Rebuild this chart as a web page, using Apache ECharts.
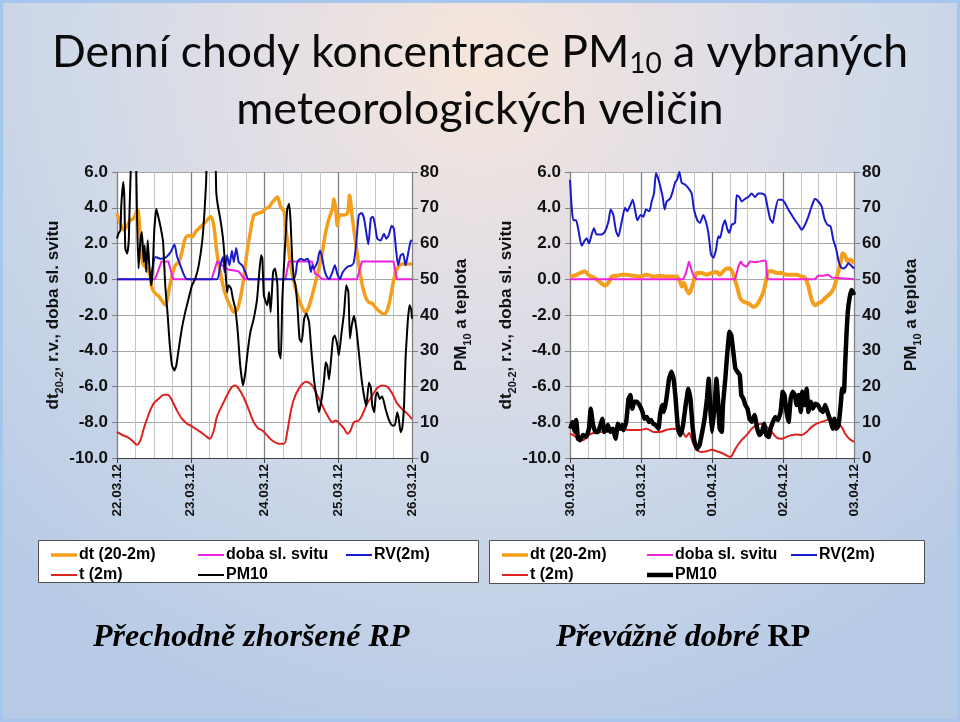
<!DOCTYPE html>
<html><head><meta charset="utf-8">
<script src="https://cdn.jsdelivr.net/npm/echarts@6/dist/echarts.min.js"></script>
<style>html,body{margin:0;padding:0;}#c{width:960px;height:722px;}</style>
</head><body><div id="c"></div>
<script>
// ---------- DATA ----------
const datesLeft = ['22.03.12','23.03.12','24.03.12','25.03.12','26.03.12'];
const datesRight = ['30.03.12','31.03.12','01.04.12','02.04.12','03.04.12'];
const leftTicks = [-10,-8,-6,-4,-2,0,2,4,6];
const rightTicks = [0,10,20,30,40,50,60,70,80];

// left chart (22.03.–26.03.), x = hours from start
const L_dt = [[0,3.7],[1.1,3.1],[2.2,2.75],[3.3,3.0],[4.3,3.3],[5.4,3.4],[6.7,3.9],[7.4,2.8],[8.1,1.15],[8.7,0.78],[9.8,0.6],[10.8,0.2],[11.4,-0.5],[12.5,-0.8],[13.6,-0.95],[14.6,-1.2],[15.7,-1.45],[16.8,-0.7],[17.9,0.2],[19,0.78],[20.1,0.96],[21.1,1.5],[22.2,2.27],[23.3,2.45],[24.4,2.36],[25.5,2.64],[26.6,2.83],[28.2,3.1],[29.8,3.4],[30.6,3.5],[31.5,3.0],[32.5,1.5],[33.6,0.4],[34.7,-0.5],[35.8,-1.1],[36.9,-1.5],[38,-1.85],[39,-1.75],[40.1,-1.1],[41.2,0.03],[42.3,1.5],[43.4,2.64],[44.5,3.57],[45.6,3.67],[47.2,3.76],[48.4,3.95],[49.5,4.04],[50.5,4.3],[51.6,4.5],[52.2,4.6],[52.7,4.4],[53.3,4.04],[54.4,3.76],[55.1,2.64],[55.8,1.7],[56.5,0.78],[57.3,0.03],[58.1,-0.5],[59.1,-1.1],[60.3,-1.6],[61.4,-1.85],[62.5,-1.5],[63.5,-0.9],[64.6,-0.16],[65.7,0.6],[66.8,1.5],[67.9,2.64],[69,3.4],[70.1,3.95],[70.6,4.5],[71.2,3.9],[71.7,3.0],[72.5,3.6],[73.9,3.6],[75,3.7],[75.7,4.7],[76.6,3.4],[77.7,2.0],[78.7,0.8],[79.8,-0.3],[80.9,-1.0],[82,-1.3],[83.1,-1.35],[84.2,-1.6],[85.8,-1.85],[86.9,-1.95],[88,-1.7],[89,-1.0],[90.1,0.0],[91.2,0.6],[92.8,0.85],[96,0.85]];
const L_sun = [[0,0],[12.4,0],[14.5,1.0],[16.7,1.0],[18.3,0],[30.8,0],[32.6,1.0],[34,0.8],[36,0.55],[39.5,0.45],[41.6,0],[54.8,0],[55.9,1.0],[63.4,1.0],[64.5,0.3],[65.6,0.2],[66.7,0],[78.1,0],[79.7,1.0],[90,1.0],[91.1,0],[96,0]];
const L_rv = [[0,0],[10.8,0],[11.4,0.5],[12.5,1.25],[14.1,1.15],[15.7,1.2],[17.4,1.5],[18.7,1.95],[19.5,1.3],[20.6,0.78],[21.9,0.2],[22.8,0],[32.5,0],[33.6,0.78],[34.5,1.24],[35,0.4],[35.8,1.34],[36.6,0.78],[37.4,1.6],[38,0.96],[38.8,1.75],[39.6,0.96],[40.7,0.78],[41.8,0.4],[42.8,0],[57.4,0],[58.7,0.96],[59.8,1.15],[60.9,1.06],[62,1.15],[62.5,0.96],[63.1,0.4],[63.6,0.78],[64.1,0.6],[65.2,0.96],[66,1.6],[66.6,1.34],[67.4,0.6],[68.1,0.2],[69,0],[70.1,0.4],[70.9,0.78],[71.7,0.3],[72.5,0],[73.5,0.4],[75,0.7],[76.4,0.78],[77.1,0.96],[77.9,2.1],[78.7,3.6],[79.6,3.7],[80.4,3.4],[81.1,2.64],[81.8,1.95],[82.6,3.4],[83.3,3.5],[83.9,3.1],[84.7,2.27],[85.8,2.17],[86.9,2.55],[87.6,2.27],[88.4,2.45],[89.4,3.0],[90.1,2.83],[90.9,1.5],[91.5,0.78],[92.3,1.34],[93.1,1.43],[93.9,0.78],[94.8,1.5],[95.5,2.1],[96,2.2]];
const L_t = [[0,7.3],[1.6,6.5],[3.3,5.9],[4.9,4.9],[6.5,3.7],[7.6,4.9],[8.7,8.2],[9.8,11.0],[10.8,13.3],[11.9,15.2],[13.6,16.6],[15.2,17.7],[16.5,17.7],[17.9,16.1],[19.5,13.3],[21.1,11.0],[22.8,9.6],[23.9,9.1],[25.5,8.2],[27.1,7.3],[28.7,6.3],[30.2,5.4],[31.5,7.7],[32.5,11.5],[34.2,14.7],[35.8,17.5],[37.4,19.9],[38.5,20.3],[39.6,19.4],[41.2,17.0],[42.8,13.7],[44.5,10.0],[46.1,8.2],[47.3,7.7],[48.9,6.3],[50.5,4.9],[52.7,4.0],[54.4,4.0],[55.4,7.3],[56.5,12.8],[57.6,16.5],[59.2,19.4],[61.4,21.3],[63.5,20.3],[65.2,17.5],[66.8,14.7],[68.4,12.0],[70.1,10.0],[71.2,10.5],[72.5,9.6],[73.9,8.2],[75,6.8],[76,7.7],[77.1,10.0],[78.7,10.5],[79.8,12.0],[81.4,15.2],[83.1,17.5],[84.7,19.6],[86.3,20.3],[88,19.9],[89.6,18.0],[91.2,15.2],[92.8,13.7],[94.5,12.4],[96,10.9]];
const L_pm = [[0,61.4],[0.5,62.8],[1.1,63.7],[1.4,70.7],[2,77.2],[2.4,72.5],[2.7,58.6],[3.3,57.2],[3.8,60.4],[4.1,69.7],[4.6,84],[5.4,100],[6.2,84],[6.5,67.9],[7,53],[7.6,60.4],[8.1,63.2],[8.7,54.8],[9,59.5],[9.5,52],[10,60.9],[10.5,53.9],[11.1,48.3],[11.6,52],[12.1,63.2],[12.8,69.7],[13.6,66.9],[14.3,64.1],[15,60.4],[15.7,48.3],[16.5,39.9],[17.1,32.4],[17.9,25.9],[18.7,24.5],[19.3,25.9],[20.1,30.6],[21.1,36.2],[22.2,40.8],[23.3,44.6],[24.4,48.3],[25.5,50.2],[26.6,53.9],[27.7,60.4],[28.4,67.9],[29,77.2],[29.3,86],[30.6,105],[32,86],[32.3,74.4],[32.8,70.7],[33.6,66.9],[34.5,61.4],[35.2,53.9],[35.8,46.4],[36.3,48.3],[37.1,47.4],[37.7,44.6],[38.5,41.7],[39.3,35.2],[40.1,25.9],[41,20.3],[41.8,24.1],[42.5,29.6],[43.4,35.2],[44.5,39],[45.6,44.6],[46.3,52],[46.9,56.7],[47.3,55.8],[47.8,45.5],[48.9,42.7],[49.5,46.4],[50,40.8],[50.8,52],[51.4,53],[52.2,48.3],[52.7,29.6],[53.3,27.8],[53.8,44.6],[54.7,59.5],[55.4,69.7],[56,71.1],[56.5,66],[57,55.8],[57.6,50],[58.1,48.3],[58.7,42.7],[59.4,33.4],[60.1,32.4],[60.9,39],[61.6,40.4],[62.5,38],[63.3,29.6],[64.1,22],[65,16.5],[65.7,12.8],[66.6,16.5],[67.4,22],[67.9,26.8],[68.4,25.9],[69,22],[69.5,25.9],[70.3,33.4],[70.9,34.3],[71.7,31.5],[72.2,28.7],[73.1,35.2],[73.9,40.8],[74.6,48.3],[75.3,46.4],[75.8,33.4],[76.4,37.1],[77.1,39.8],[77.9,36.2],[78.7,29.6],[79.6,22],[80.4,17.3],[81.1,14.5],[82,21.1],[82.6,19.7],[83.1,14.5],[83.7,12.8],[84.2,17.3],[84.7,18.4],[85.5,16.5],[86.3,17.3],[87.4,13.7],[88.4,10.9],[89.6,9.1],[90.4,9.1],[91.2,12.8],[91.7,10.9],[92.3,7.2],[92.8,8.2],[93.4,14.5],[93.9,27.8],[94.6,38],[95.2,42.7],[95.7,41.7],[96,39]];

// right chart (30.03.–03.04.)
const R_dt = [[0,0.15],[2.25,0.25],[3.4,0.35],[5.1,0.45],[6.2,0.25],[7.3,0.15],[8.5,0.05],[10.1,-0.15],[11.8,-0.35],[13,-0.2],[14.1,0.15],[15.8,0.2],[17.5,0.25],[19.2,0.25],[21.4,0.2],[23.7,0.15],[25.9,0.25],[28.2,0.15],[30.4,0.2],[32.7,0.15],[36.1,0.15],[37.2,-0.15],[37.8,-0.4],[38.5,-0.2],[39.4,-0.6],[40.3,-0.8],[41.1,-0.5],[41.9,-0.05],[42.8,0.35],[44.5,0.35],[46.2,0.25],[47.9,0.35],[49.6,0.4],[50.7,0.25],[51.8,0.45],[53,0.6],[54.1,0.6],[55,0.35],[55.8,-0.05],[56.6,-0.5],[57.5,-1.05],[58.6,-1.25],[60.3,-1.35],[62,-1.55],[63.1,-1.45],[64.2,-1.15],[65.4,-0.7],[66.3,-0.05],[67,0.45],[68.2,0.45],[69.9,0.35],[71.6,0.35],[73.2,0.25],[74.9,0.25],[76.6,0.25],[78.3,0.15],[79.4,0.1],[80.6,-0.4],[81.7,-1.15],[82.8,-1.45],[83.9,-1.35],[85.1,-1.25],[86.2,-1.05],[87.3,-0.9],[88.5,-0.7],[89.6,-0.3],[90.4,0.25],[91.3,0.8],[92.2,1.45],[93,1.3],[93.8,1.0],[94.7,1.1],[96,0.9]];
const R_sun = [[0,0],[38.3,0],[39.2,0.35],[40.2,1.0],[41.1,0.5],[41.9,0.15],[42.8,0],[55.8,0],[56.9,0.7],[57.7,1.0],[58.4,0.8],[59.7,0.7],[60.8,1.0],[62.5,0.95],[64.2,1.0],[65.6,1.05],[66.3,1.0],[66.7,0],[82.8,0],[83.9,0.2],[85.6,0.2],[87.3,0.25],[88.5,0.1],[89,0],[96,0]];
const R_rv = [[0,5.57],[0.56,4.07],[1.13,3.3],[2.03,3.3],[2.82,2.77],[3.94,1.87],[4.73,2.1],[5.63,2.3],[6.42,2.0],[7.32,2.5],[8.11,2.86],[9.01,2.5],[10.7,2.5],[11.83,2.67],[12.96,3.2],[13.75,3.9],[14.65,3.6],[15.55,2.7],[16.34,2.4],[17.46,3.2],[18.59,4.0],[19.38,3.8],[20.28,4.1],[21.18,4.45],[21.97,3.9],[22.76,3.3],[23.89,3.6],[24.79,3.5],[25.69,3.9],[26.82,3.8],[27.61,4.35],[28.39,4.8],[29.07,5.95],[29.86,5.6],[30.65,5.1],[31.32,4.6],[32,3.9],[32.68,4.35],[33.8,4.5],[34.7,4.9],[35.49,5.4],[36.28,5.6],[36.96,6.0],[37.75,5.4],[38.87,5.3],[40,5.1],[41.13,4.8],[41.92,3.9],[43.04,3.3],[43.94,3.15],[45.07,3.6],[45.97,3.2],[46.76,2.6],[47.66,1.4],[48.45,1.2],[49.35,1.65],[50.14,2.4],[50.7,2.3],[51.61,2.95],[52.39,3.3],[53.18,2.8],[53.86,2.6],[54.65,3.05],[55.77,3.15],[56.34,4.7],[57.24,4.6],[58.03,4.35],[59.15,4.5],[60.28,4.6],[61.41,4.8],[62.54,4.6],[63.66,4.8],[64.79,4.8],[65.92,4.7],[66.7,4.1],[67.61,3.4],[68.51,3.15],[69.3,3.8],[70.42,4.45],[71.55,4.45],[72.68,4.26],[73.8,3.9],[74.93,3.6],[76.06,3.3],[77.18,3.05],[78.31,2.77],[79.44,3.05],[80.56,3.5],[81.69,4.07],[82.82,4.5],[83.94,4.35],[85.07,4.07],[85.97,3.4],[86.99,3.05],[88.11,2.95],[89.01,2.2],[89.92,1.74],[90.7,1.08],[91.49,0.7],[92.39,0.6],[93.3,0.7],[94.08,0.9],[94.87,0.8],[96,0.6]];
const R_t = [[0,6.8],[1.1,6.4],[2.8,5.4],[4.5,5.0],[6.2,6.4],[7.9,7.0],[10.1,7.3],[12.4,7.3],[14.7,7.6],[16.9,7.8],[19.2,7.9],[21.4,7.8],[23.7,7.8],[25.9,8.2],[28.2,7.3],[30.4,7.3],[32.7,7.9],[34.9,8.2],[36.6,7.9],[38.1,7.3],[39.2,5.9],[40.3,7.0],[41.1,5.4],[41.9,3.6],[43,2.2],[44.5,1.7],[46.2,1.9],[47.9,2.3],[49.6,1.9],[51.3,1.4],[53,0.7],[54.3,0.3],[55.2,1.4],[56.3,3.1],[58,5.0],[59.7,6.4],[61.4,8.2],[63.1,9.2],[64.8,9.6],[66.5,8.7],[68.2,7.3],[69.9,5.7],[71.6,5.4],[73.2,5.9],[74.9,6.4],[76.6,6.6],[78.3,6.4],[80,7.3],[81.7,8.7],[83.4,9.6],[85.1,10.1],[86.8,10.6],[88.5,11.0],[90.1,10.1],[91.8,8.7],[93,6.8],[94.4,5.4],[96,4.5]];
const R_pm = [[0.1,8.2],[0.8,10.1],[1.6,7.3],[2.1,10.6],[2.7,5.4],[3.5,5.0],[4.4,6.4],[5.5,5.9],[6.4,8.2],[7,13.8],[7.8,9.2],[8.6,7.3],[9.5,7.3],[10.3,9.2],[10.9,11.0],[11.6,7.3],[12.3,7.8],[12.8,9.2],[13.6,7.3],[14.5,8.2],[15.4,5.4],[16.2,9.6],[16.8,8.2],[17.6,9.2],[18.1,7.8],[19,10.1],[19.8,16.6],[20.4,17.6],[21.1,13.8],[21.7,15.7],[22.6,15.7],[23.5,14.8],[24.5,12.9],[25.1,11.0],[26,11.5],[26.7,10.1],[27.4,10.6],[28.1,9.6],[29,9.2],[29.9,8.2],[30.5,12.4],[31.2,14.8],[31.8,12.9],[32.6,16.6],[33.5,22.2],[34.3,24.1],[35,22.2],[35.7,16.6],[36.5,8.2],[37.3,6.4],[38.2,9.2],[39.1,14.8],[40,19.4],[40.7,16.6],[41.4,9.2],[42.1,4.5],[42.9,2.6],[43.8,3.6],[44.7,7.3],[45.5,11.0],[46.3,16.6],[46.9,22.2],[47.4,14.0],[48,7.3],[48.9,14.8],[49.5,22.2],[50,16.6],[50.6,8.2],[51.3,7.3],[51.7,14.8],[52.5,22.2],[53.2,29.7],[53.9,35.3],[54.5,34.4],[55.2,29.7],[55.9,25.0],[56.6,24.1],[57.4,23.2],[57.9,17.6],[58.6,16.6],[59.3,14.8],[60,13.8],[60.7,11.0],[61.5,10.1],[62.4,12.0],[63.3,8.2],[64.1,6.4],[64.9,7.3],[65.6,9.6],[66.4,6.4],[67.2,5.9],[67.8,8.2],[68.6,10.1],[69.4,11.5],[70.3,10.6],[71.2,12.9],[71.9,18.5],[72.5,17.6],[73.2,12.9],[73.9,10.1],[74.6,16.6],[75.3,18.5],[76,17.6],[76.6,14.8],[77.3,17.6],[78,12.9],[78.5,18.5],[79.3,14.8],[80,19.4],[80.6,12.9],[81.4,15.7],[82.1,13.8],[82.9,15.2],[83.8,14.8],[84.7,13.4],[85.5,12.9],[86.3,14.8],[87.2,12.4],[88.2,10.1],[88.8,8.2],[89.4,11.0],[90.1,8.2],[90.8,9.2],[91.5,14.8],[92,19.4],[92.6,18.5],[93,26],[93.5,35.3],[93.9,40.9],[94.5,44.7],[95.1,47],[95.6,46.5],[96,45.6]];

const seriesNames = ['dt (20-2m)','doba sl. svitu','RV(2m)','t (2m)','PM10'];
const titleLine1 = ['Denní chody koncentrace PM','10',' a vybraných'];
const titleLine2 = 'meteorologických veličin';
const caption1 = 'Přechodně zhoršené RP';
const caption2 = ['Převážně dobré ','RP'];

// ---------- STYLE ----------
const AR = 'Liberation Sans';
const C = {dt:'#f59e1b', sun:'#ee22dd', rv:'#1a1acc', t:'#dd2222', pm:'#000000'};
const grids = [
  {left:117, top:172, width:295, height:286},
  {left:570, top:172, width:284, height:286}
];
const axisLabelY = {fontFamily:AR, fontWeight:'bold', fontSize:17, color:'#111'};
const nameRich = {
  a:{fontFamily:AR, fontWeight:'bold', fontSize:17, color:'#111', lineHeight:24, verticalAlign:'middle'},
  s:{fontFamily:AR, fontWeight:'bold', fontSize:11, color:'#111', lineHeight:14, verticalAlign:'bottom'}
};

function xAxisFor(gi, dates){
  return {
    type:'value', gridIndex:gi, min:0, max:96, interval:24,
    axisLine:{show:true, onZero:false, lineStyle:{color:'#404040', width:1}},
    axisTick:{show:true, length:5, lineStyle:{color:'#404040'}},
    axisLabel:{rotate:90, margin:6, fontFamily:AR, fontWeight:'bold', fontSize:13.5, color:'#111',
      formatter:(v)=>dates[Math.round(v/24)] || ''},
    splitLine:{show:true, lineStyle:{color:'#808080', width:1.3}},
    minorTick:{show:false, splitNumber:4},
    minorSplitLine:{show:true, lineStyle:{color:'#c4c4c4', width:1}}
  };
}
function yLeft(gi){
  return {
    type:'value', gridIndex:gi, position:'left', min:leftTicks[0], max:leftTicks[leftTicks.length-1], interval:2,
    name:'{a|dt}{s|20-2}{a|, r.v., doba sl. svitu}', nameLocation:'middle', nameGap:44,
    nameTextStyle:{rich:nameRich},
    axisLine:{show:true, onZero:false, lineStyle:{color:'#808080'}},
    axisTick:{show:true, length:5, lineStyle:{color:'#808080'}},
    axisLabel:{...axisLabelY, margin:9, formatter:(v)=>v.toFixed(1)},
    splitLine:{show:true, lineStyle:{color:'#a8a8a8', width:1}}
  };
}
function yRight(gi, gap){
  return {
    type:'value', gridIndex:gi, position:'right', min:rightTicks[0], max:rightTicks[rightTicks.length-1], interval:10,
    name:'{a|PM}{s|10}{a| a teplota}', nameLocation:'middle', nameGap:gap,
    nameTextStyle:{rich:nameRich},
    axisLine:{show:true, onZero:false, lineStyle:{color:'#808080'}},
    axisTick:{show:true, length:6, lineStyle:{color:'#808080'}},
    axisLabel:{...axisLabelY, margin:8},
    splitLine:{show:false}
  };
}
function line(name, data, xi, yi, color, width, smooth){
  return {name, type:'line', xAxisIndex:xi, yAxisIndex:yi, data, symbol:'none', showSymbol:false,
    smooth: smooth, clip:true, lineStyle:{color, width}, itemStyle:{color}, emphasis:{disabled:true}};
}
function legendBlock(left, names, pmWidth){
  return {
    orient:'vertical', left, top:542, itemWidth:26, itemHeight:14, itemGap:4,
    textStyle:{fontFamily:AR, fontWeight:'bold', fontSize:16, color:'#000', padding:[0,0,0,-3]},
    selectedMode:false,
    data: names.map(n=>{
      const w = n===seriesNames[0] ? 3.5 : (n===seriesNames[4] ? pmWidth : 2);
      const col = [C.dt,C.sun,C.rv,C.t,C.pm][seriesNames.indexOf(n)];
      return {name:n, icon:'path://M0,0 L26,0 L26,'+w+' L0,'+w+' Z', itemStyle:{color:col, borderWidth:0}};
    })
  };
}

const titleFont = 'Lato';
const option = {
  animation:false,
  backgroundColor:{type:'radial', x:0.5, y:0.08, r:0.95, colorStops:[
    {offset:0, color:'#f6e6da'},{offset:0.3, color:'#e4dfe5'},{offset:0.6, color:'#cfd9e8'},{offset:1, color:'#b8cbe6'}]},
  title:[
    {left:'center', top:23, text:'{a|'+titleLine1[0]+'}{s|'+titleLine1[1]+'}{a|'+titleLine1[2]+'}',
      textStyle:{rich:{a:{fontFamily:titleFont, fontWeight:'normal', fontSize:44.5, color:'#0a0a0a', lineHeight:50, verticalAlign:'middle'},
                       s:{fontFamily:titleFont, fontWeight:'normal', fontSize:28, color:'#0a0a0a', lineHeight:36, verticalAlign:'bottom'}}}},
    {left:'center', top:79, text:titleLine2, textStyle:{fontFamily:titleFont, fontSize:45, color:'#0a0a0a', fontWeight:'normal', lineHeight:50}},
    {left:88, top:617, text:caption1, textStyle:{fontFamily:'Liberation Serif', fontStyle:'italic', fontWeight:'bold', fontSize:32, color:'#000'}},
    {left:551, top:617, text:'{i|'+caption2[0]+'}{u|'+caption2[1]+'}',
      textStyle:{rich:{i:{fontFamily:'Liberation Serif', fontStyle:'italic', fontWeight:'bold', fontSize:32, color:'#000'},
                       u:{fontFamily:'Liberation Serif', fontWeight:'bold', fontSize:32, color:'#000'}}}}
  ],
  graphic:[
    {type:'rect', shape:{x:1.5, y:1.5, width:957, height:719}, style:{fill:'none', stroke:'#a6c6ee', lineWidth:3}, silent:true},
    {type:'rect', shape:{x:38.5, y:540.5, width:440, height:42}, style:{fill:'#ffffff', stroke:'#505050', lineWidth:1}, silent:true, z:1},
    {type:'rect', shape:{x:489.5, y:540.5, width:435, height:43}, style:{fill:'#ffffff', stroke:'#505050', lineWidth:1}, silent:true, z:1}
  ],
  grid: grids.map(g=>({...g, show:true, backgroundColor:'#ffffff', borderWidth:0, containLabel:false})),
  xAxis:[xAxisFor(0, datesLeft), xAxisFor(1, datesRight)],
  yAxis:[yLeft(0), yRight(0, 37), yLeft(1), yRight(1, 45)],
  legend:[
    legendBlock(46, [seriesNames[0], seriesNames[3]], 2),
    legendBlock(193, [seriesNames[1], seriesNames[4]], 2),
    legendBlock(341, [seriesNames[2]], 2),
    legendBlock(497, [seriesNames[0], seriesNames[3]], 4.5),
    legendBlock(642, [seriesNames[1], seriesNames[4]], 4.5),
    legendBlock(786, [seriesNames[2]], 4.5)
  ],
  series:[
    line(seriesNames[0], L_dt, 0, 0, C.dt, 3.5, 0.3),
    line(seriesNames[1], L_sun, 0, 0, C.sun, 2, false),
    line(seriesNames[2], L_rv, 0, 0, C.rv, 2, 0.2),
    line(seriesNames[3], L_t, 0, 1, C.t, 2, 0.3),
    line(seriesNames[4], L_pm, 0, 1, C.pm, 2, 0.15),
    line(seriesNames[0], R_dt, 1, 2, C.dt, 4, 0.2),
    line(seriesNames[1], R_sun, 1, 2, C.sun, 2, false),
    line(seriesNames[2], R_rv, 1, 2, C.rv, 2, 0.2),
    line(seriesNames[3], R_t, 1, 3, C.t, 2, 0.3),
    line(seriesNames[4], R_pm, 1, 3, C.pm, 4.5, 0.1)
  ]
};
const chart = echarts.init(document.getElementById('c'), null, {renderer:'canvas'});
chart.setOption(option);
</script>
</body></html>
